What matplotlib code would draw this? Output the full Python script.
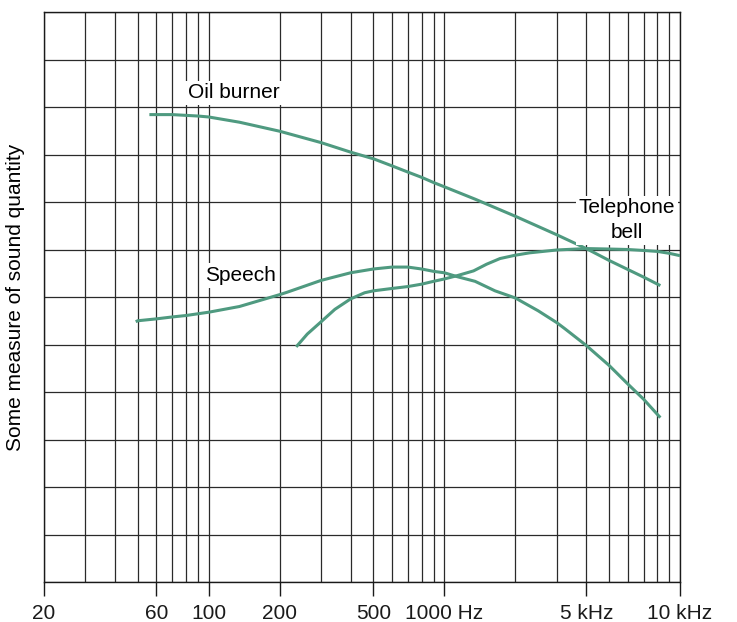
import matplotlib
matplotlib.use("Agg")
import matplotlib.pyplot as plt

plt.rcParams['font.family'] = ['Liberation Sans', 'DejaVu Sans']

# frequency grid of the chart paper
grid_freqs = [20, 30, 40, 50, 60, 70, 80, 90, 100,
              200, 300, 400, 500, 600, 700, 800, 900, 1000,
              2000, 3000, 4000, 5000, 6000, 7000, 8000, 9000, 10000]
tick_freqs = [20, 60, 100, 200, 500, 1000, 4000, 10000]
tick_labels = ['20', '60', '100', '200', '500', '1000 Hz', '5 kHz', '10 kHz']

# curves (Hz, arbitrary units)
oil_f = [56, 70, 90, 100, 135, 200, 300, 400, 500, 600, 700, 800, 900, 1000,
         1350, 2000, 3000, 4000, 5000, 6000, 7000, 8250]
oil_v = [9.84, 9.84, 9.81, 9.79, 9.68, 9.49, 9.25, 9.05, 8.91, 8.76, 8.63, 8.52, 8.41, 8.32,
         8.06, 7.70, 7.31, 7.02, 6.77, 6.58, 6.42, 6.24]

speech_f = [49, 50, 60, 70, 80, 100, 135, 200, 215, 300, 400, 500, 600, 700, 800, 900, 1000,
            1130, 1350, 1640, 2000, 2500, 3000, 3250, 4000, 5000, 6000, 7000, 8250]
speech_v = [5.48, 5.50, 5.54, 5.58, 5.61, 5.68, 5.80, 6.05, 6.10, 6.35, 6.51, 6.59, 6.63, 6.63, 6.59, 6.54, 6.51,
            6.43, 6.33, 6.13, 5.98, 5.71, 5.46, 5.33, 4.98, 4.56, 4.17, 3.85, 3.46]

bell_f = [235, 262, 300, 343, 400, 459, 500, 600, 700, 800, 900, 1000, 1134, 1330, 1510, 1723,
          2000, 2300, 3000, 4000, 5000, 6000, 7000, 8000, 9000, 10000]
bell_v = [4.95, 5.22, 5.48, 5.74, 5.96, 6.09, 6.13, 6.18, 6.22, 6.27, 6.33, 6.38, 6.45, 6.55, 6.69, 6.81,
          6.88, 6.93, 6.99, 7.02, 7.01, 7.0, 6.98, 6.96, 6.92, 6.87]

green = '#4f9a80'

fig = plt.figure(figsize=(7.37, 6.22), dpi=100)
ax = fig.add_axes([0.0597, 0.0643, 0.863, 0.9164])

ax.set_xscale('log')
ax.set_xlim(20, 10000)
ax.set_ylim(0, 12)

for f in grid_freqs:
    ax.axvline(f, color='#2a2a2a', lw=0.9, zorder=1)
for v in range(13):
    ax.axhline(v, color='#2a2a2a', lw=0.9, zorder=1)

for fx, vy in [(oil_f, oil_v), (speech_f, speech_v), (bell_f, bell_v)]:
    ax.plot(fx, vy, color=green, lw=2.2, zorder=3, solid_capstyle='butt', solid_joinstyle='round')

box = dict(facecolor='white', edgecolor='none', pad=2)
ax.text(128, 10.3, 'Oil burner', fontsize=15, ha='center', va='center', bbox=box, zorder=4)
ax.text(136, 6.45, 'Speech', fontsize=15, ha='center', va='center', bbox=box, zorder=4)
ax.text(5950, 7.62, 'Telephone\nbell', fontsize=15, ha='center', va='center',
        linespacing=1.37, bbox=box, zorder=4)

ax.set_xticks(tick_freqs)
ax.set_xticklabels(tick_labels, fontsize=15)
ax.xaxis.set_minor_locator(matplotlib.ticker.NullLocator())
ax.tick_params(axis='x', length=10, width=1, direction='out', pad=6, colors='#1a1a1a')
ax.set_yticks([])
ax.set_ylabel('Some measure of sound quantity', fontsize=15, labelpad=14)

for s in ax.spines.values():
    s.set_color('#1a1a1a')
    s.set_linewidth(1.0)

fig.savefig('out.png', dpi=100)
